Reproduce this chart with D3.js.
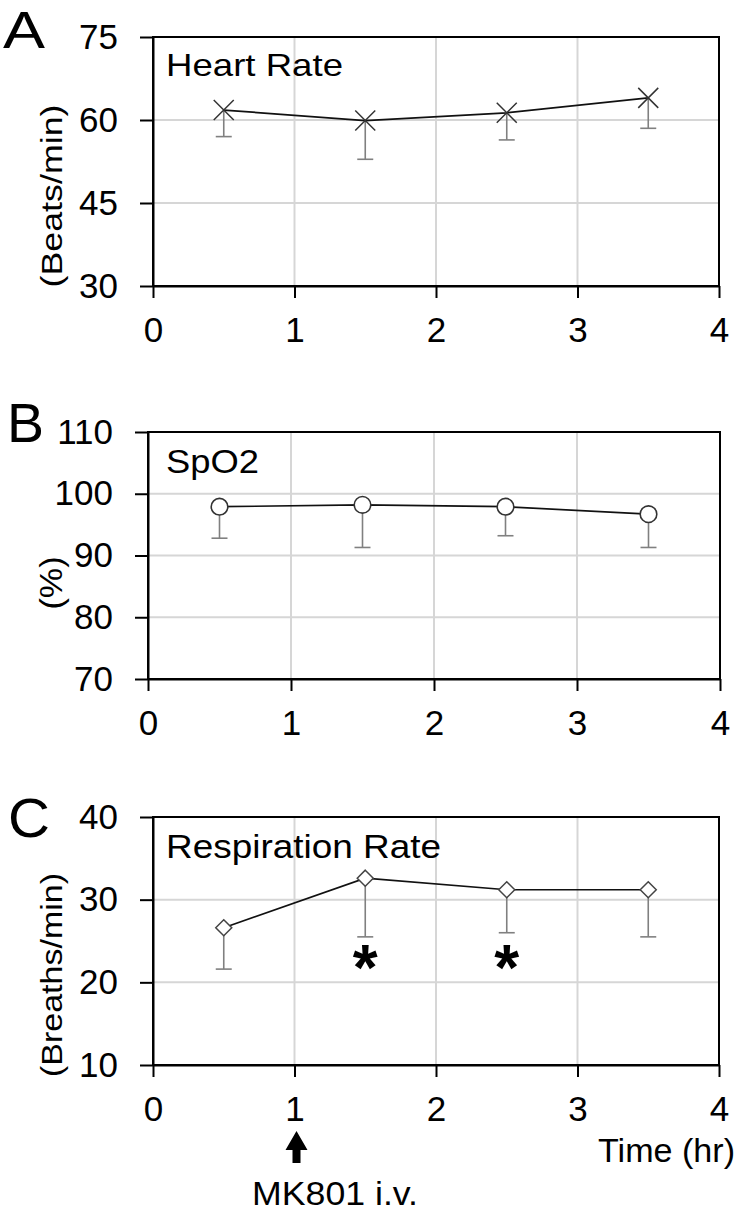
<!DOCTYPE html>
<html>
<head>
<meta charset="utf-8">
<script src="https://cdn.jsdelivr.net/npm/d3@7"></script>
<style>
  html, body { margin: 0; padding: 0; background: #fff; }
  svg { display: block; }
  text { font-family: "Liberation Sans", Arial, sans-serif; fill: #000; }
</style>
</head>
<body>
<svg id="chart" width="738" height="1211"></svg>
<script>
// ---------------- data ----------------
const times = [0.5, 1.5, 2.5, 3.5];
const xTicks = [0, 1, 2, 3, 4];

const hrMean = [61.8, 59.9, 61.3, 64.0];
const hrSD   = [4.8, 7.0, 4.9, 5.5];
const hrTicks = [30, 45, 60, 75];

const spo2Mean = [97.9, 98.2, 97.9, 96.7];
const spo2SD   = [5.1, 6.9, 4.7, 5.4];
const spo2Ticks = [70, 80, 90, 100, 110];

const rrMean = [26.6, 32.6, 31.2, 31.2];
const rrSD   = [5.0, 7.1, 5.2, 5.7];
const rrTicks = [10, 20, 30, 40];

const sigTimes = [1.5, 2.5];
const sigLevel = 22.8;

const panelLetters = ["A", "B", "C"];
const panelTitles = ["Heart Rate", "SpO2", "Respiration Rate"];
const panelYLabels = ["(Beats/min)", "(%)", "(Breaths/min)"];
const xAxisTitle = "Time (hr)";
const injectionTime = 1;
const injectionLabel = "MK801 i.v.";

// ---------------- layout ----------------
const svg = d3.select("#chart");

const panels = [
  { mean: hrMean, sd: hrSD, ticks: hrTicks, marker: "x",
    box: { l: 153, r: 719, t: 37, b: 286 },
    letter: { x: 3, y: 48, len: 42, size: 52 },
    title: { y: 76, len: 177, size: 32 },
    ylab: { y: 196, len: 183, size: 30 } },
  { mean: spo2Mean, sd: spo2SD, ticks: spo2Ticks, marker: "circle",
    box: { l: 148, r: 720, t: 432, b: 679 },
    letter: { x: 7, y: 442, len: 37, size: 56 },
    title: { y: 473, len: 93, size: 33 },
    ylab: { y: 583, len: 53, size: 32 } },
  { mean: rrMean, sd: rrSD, ticks: rrTicks, marker: "diamond",
    box: { l: 153, r: 719, t: 817, b: 1065 },
    letter: { x: 8, y: 837, len: 42, size: 56 },
    title: { y: 858, len: 275, size: 34 },
    ylab: { y: 975, len: 204, size: 30 } }
];

function addText(g, str, x, y, o = {}) {
  const t = g.append("text")
    .attr("x", x).attr("y", y)
    .attr("font-size", o.size || 34)
    .attr("text-anchor", o.anchor || "start")
    .text(str);
  if (o.weight) t.attr("font-weight", o.weight);
  if (o.len) t.attr("textLength", o.len).attr("lengthAdjust", "spacingAndGlyphs");
  if (o.rotate) t.attr("transform", `rotate(${o.rotate},${x},${y})`);
  return t;
}

panels.forEach((p, i) => {
  const g = svg.append("g");
  const x = d3.scaleLinear().domain([0, 4]).range([p.box.l, p.box.r]);
  const y = d3.scaleLinear().domain(d3.extent(p.ticks)).range([p.box.b, p.box.t]);

  // gridlines
  g.append("g").selectAll("line.h").data(p.ticks).join("line")
    .attr("x1", p.box.l).attr("x2", p.box.r)
    .attr("y1", d => y(d)).attr("y2", d => y(d))
    .attr("stroke", "#d6d6d6").attr("stroke-width", 2);
  g.append("g").selectAll("line.v").data(xTicks).join("line")
    .attr("x1", d => x(d)).attr("x2", d => x(d))
    .attr("y1", p.box.t).attr("y2", p.box.b)
    .attr("stroke", "#d6d6d6").attr("stroke-width", 2);

  // box frame
  g.append("rect")
    .attr("x", p.box.l).attr("y", p.box.t)
    .attr("width", p.box.r - p.box.l).attr("height", p.box.b - p.box.t)
    .attr("fill", "none").attr("stroke", "#000").attr("stroke-width", 2);

  // axes
  const ya = g.append("g").attr("transform", `translate(${p.box.l},0)`)
    .call(d3.axisLeft(y).tickValues(p.ticks).tickSize(13).tickSizeOuter(0).tickPadding(22).tickFormat(d3.format("d")));
  const xa = g.append("g").attr("transform", `translate(0,${p.box.b})`)
    .call(d3.axisBottom(x).tickValues(xTicks).tickSize(12).tickSizeOuter(0).tickPadding(19).tickFormat(d3.format("d")));
  [ya, xa].forEach(a => {
    a.select(".domain").attr("stroke", "#000").attr("stroke-width", 2);
    a.selectAll(".tick line").attr("stroke", "#000").attr("stroke-width", 2);
    a.selectAll(".tick text").attr("font-size", 35).attr("fill", "#000")
      .attr("font-family", '"Liberation Sans", Arial, sans-serif');
  });

  // panel letter
  addText(g, panelLetters[i], p.letter.x, p.letter.y, { size: p.letter.size, len: p.letter.len });
  // title
  addText(g, panelTitles[i], 166, p.title.y, { size: p.title.size, len: p.title.len });
  // y label
  addText(g, panelYLabels[i], 62, p.ylab.y, { size: p.ylab.size, anchor: "middle", len: p.ylab.len, rotate: -90 });

  // error bars (lower only)
  const eb = g.append("g").attr("stroke", "#808080").attr("stroke-width", 1.6);
  times.forEach((t, k) => {
    const lo = p.mean[k] - p.sd[k];
    eb.append("line").attr("x1", x(t)).attr("x2", x(t)).attr("y1", y(p.mean[k])).attr("y2", y(lo));
    eb.append("line").attr("x1", x(t) - 8).attr("x2", x(t) + 8).attr("y1", y(lo)).attr("y2", y(lo));
  });

  // line
  g.append("path")
    .datum(times.map((t, k) => [t, p.mean[k]]))
    .attr("fill", "none").attr("stroke", "#111").attr("stroke-width", 1.7)
    .attr("d", d3.line().x(d => x(d[0])).y(d => y(d[1])));

  // markers
  const mg = g.append("g");
  times.forEach((t, k) => {
    const cx = x(t), cy = y(p.mean[k]);
    if (p.marker === "x") {
      mg.append("path")
        .attr("d", `M${cx - 10},${cy - 10}L${cx + 10},${cy + 10}M${cx - 10},${cy + 10}L${cx + 10},${cy - 10}`)
        .attr("stroke", "#333").attr("stroke-width", 1.5).attr("fill", "none");
    } else if (p.marker === "circle") {
      mg.append("circle").attr("cx", cx).attr("cy", cy).attr("r", 8.3)
        .attr("fill", "#fff").attr("stroke", "#333").attr("stroke-width", 1.6);
    } else {
      mg.append("path")
        .attr("d", `M${cx},${cy - 8}L${cx + 8},${cy}L${cx},${cy + 8}L${cx - 8},${cy}Z`)
        .attr("fill", "#fff").attr("stroke", "#444").attr("stroke-width", 1.5);
    }
  });

  if (i === 2) {
    // significance asterisks
    sigTimes.forEach(t => {
      addText(g, "*", x(t), y(sigLevel) + 31, { size: 64, anchor: "middle", weight: "bold" });
    });
    // x axis title
    addText(g, xAxisTitle, 598, 1162, { size: 34, len: 137 });
    // injection arrow
    const ax = x(injectionTime) + 2;
    g.append("path")
      .attr("d", `M${ax},1131L${ax + 11},1150L${ax + 4},1150L${ax + 4},1163L${ax - 4},1163L${ax - 4},1150L${ax - 11},1150Z`)
      .attr("fill", "#000");
    addText(g, injectionLabel, 252, 1205, { size: 34, len: 166 });
  }
});
</script>
</body>
</html>
